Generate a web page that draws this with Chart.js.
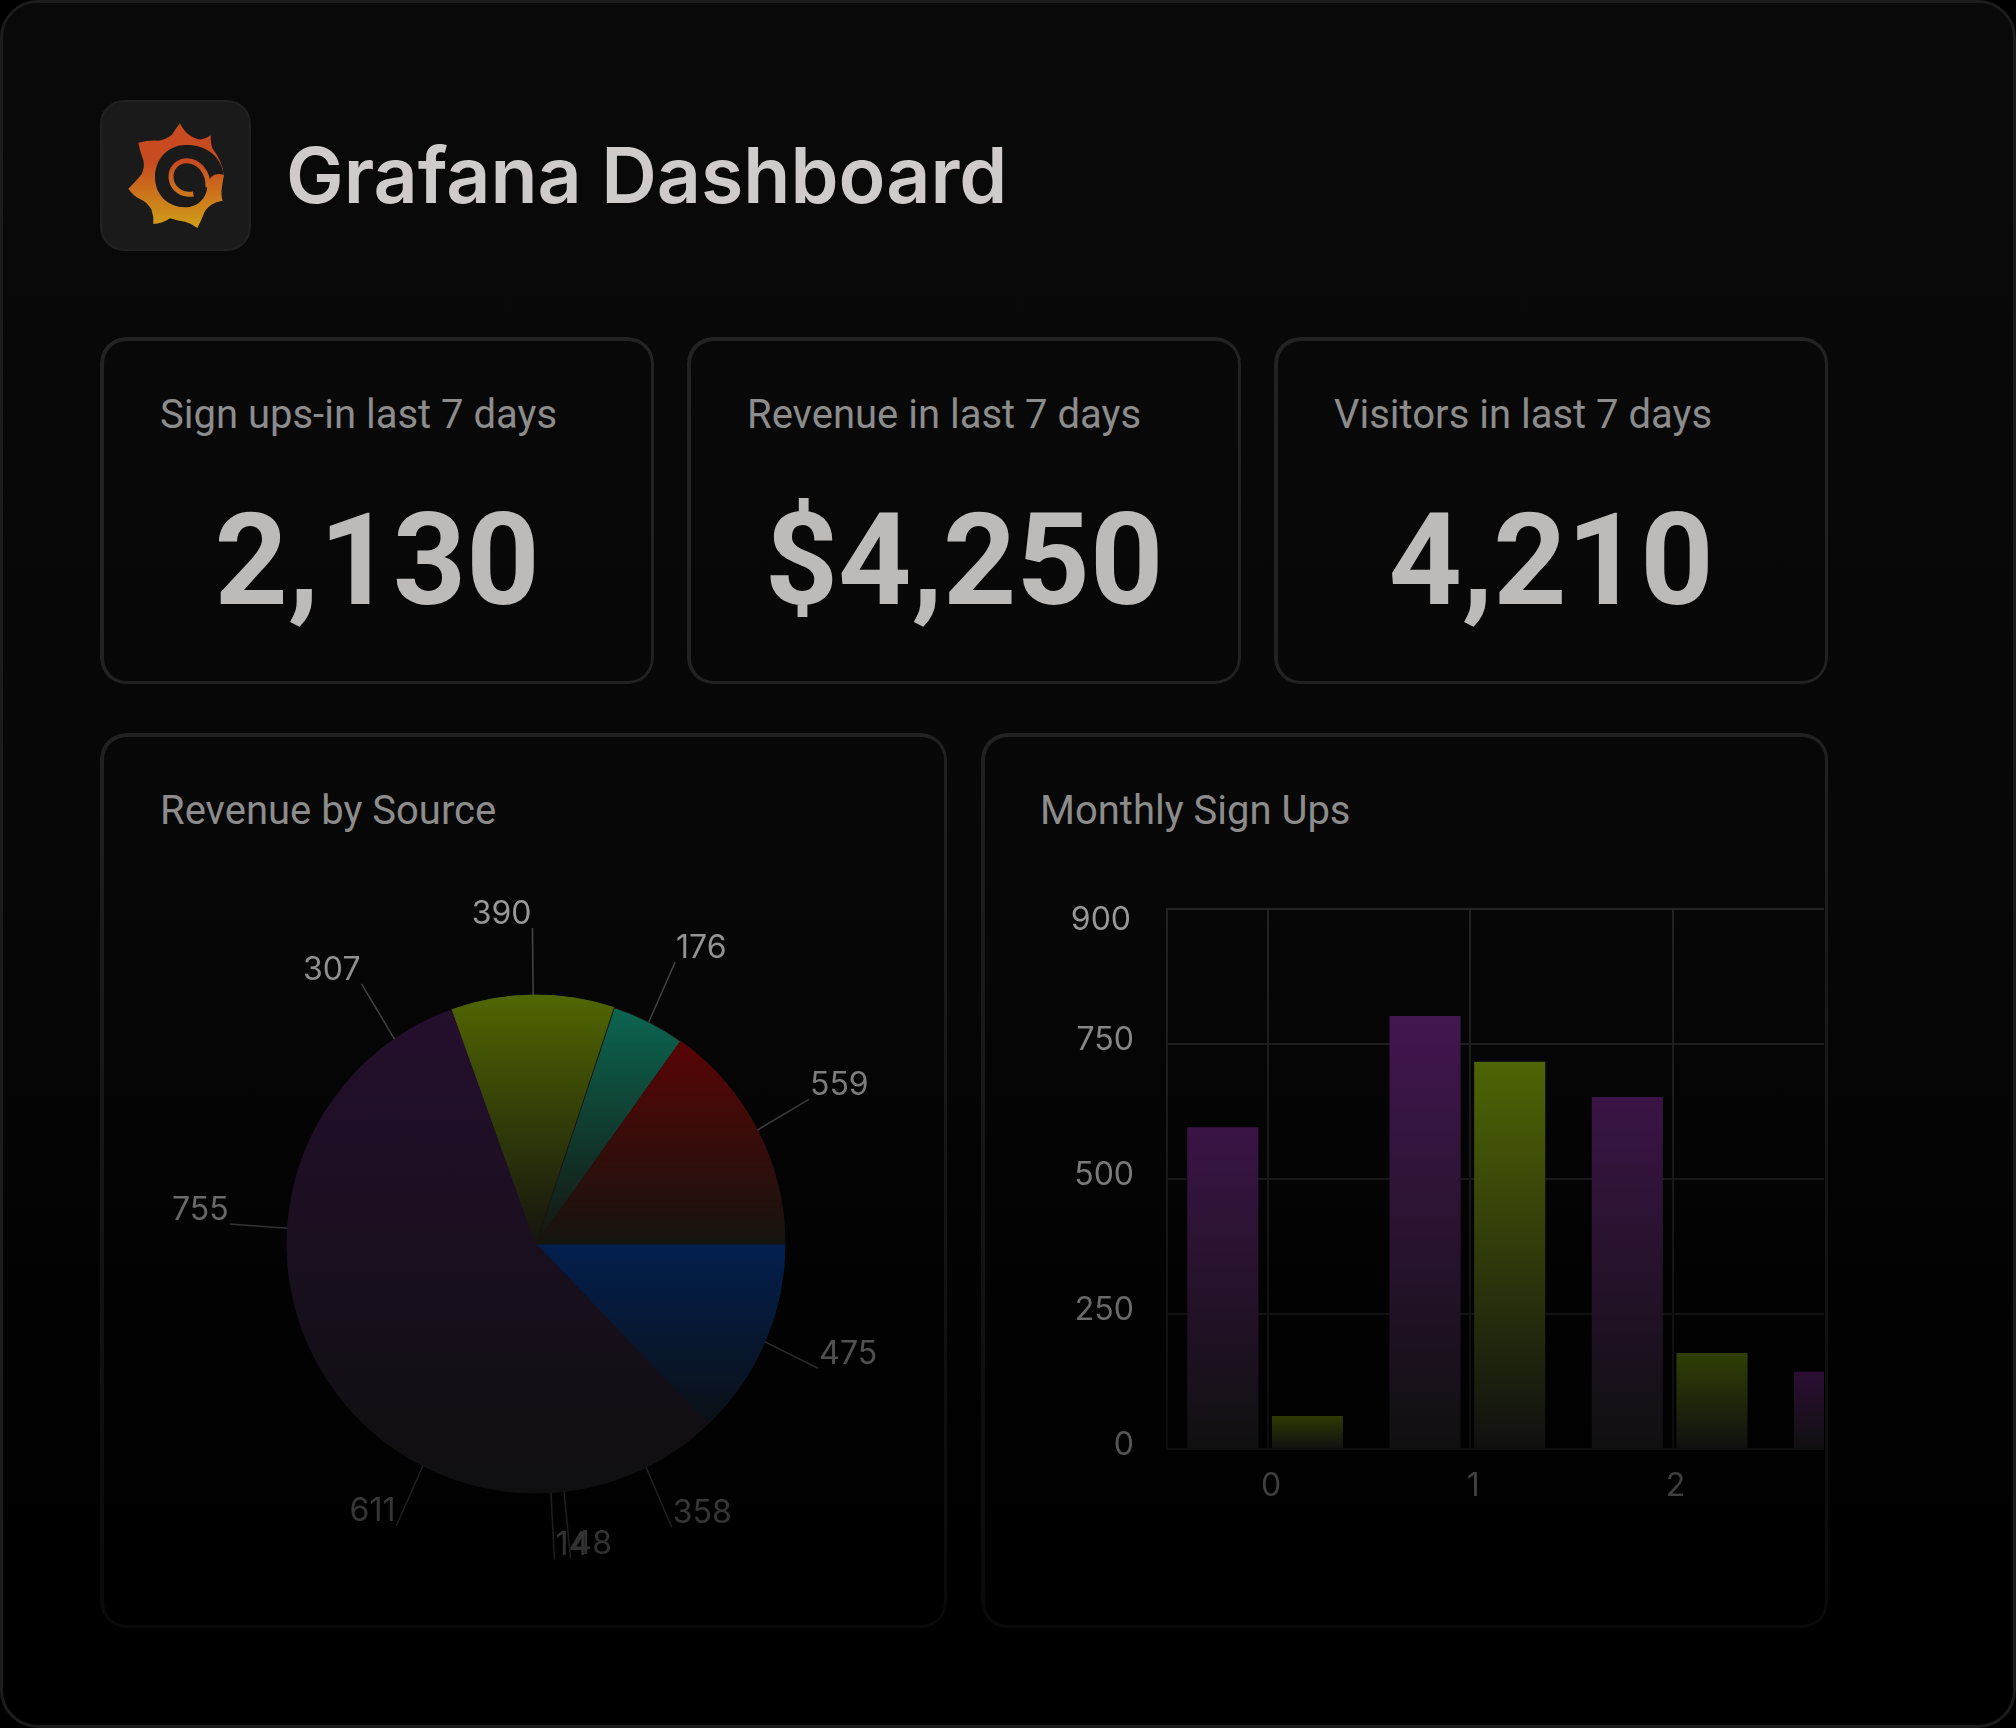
<!DOCTYPE html>
<html>
<head>
<meta charset="utf-8">
<title>Grafana Dashboard</title>
<script src="https://cdn.jsdelivr.net/npm/chart.js@4"></script>
<style>
    html, body { margin: 0; padding: 0; background: #000; }
    .page {
        position: relative; width: 2016px; height: 1728px; overflow: hidden; box-sizing: border-box;
        border: 3px solid #1c1c1c; border-radius: 38px;
        background: linear-gradient(#090909 0%, #070707 50%, #000 88%);
    }
    .box { position: absolute; box-sizing: border-box; border-radius: 26px; }
    .box::before {
        content: ''; position: absolute; inset: 0; padding: 3.5px; border-radius: 26px;
        background: linear-gradient(#232323 0%, #222 40%, #090909 95%) fixed;
        -webkit-mask: linear-gradient(#000 0 0) content-box, linear-gradient(#000 0 0);
        -webkit-mask-composite: xor; mask-composite: exclude;
    }
    .logo {
        position: absolute; left: 97px; top: 97px; width: 151px; height: 151px; box-sizing: border-box;
        background: #1a1a1a; border: 2px solid #212121; border-radius: 24px;
    }
    .logo svg { position: absolute; left: 0; top: 0; }
    h1 {
        position: absolute; left: 283px; top: 127px; margin: 0;
        font: 600 77px/90px Inter, sans-serif; color: #cfcbcb; white-space: nowrap;
    }
    .caption { position: absolute; margin: 0; font: 400 40px/48px Roboto, sans-serif; color: #8c8c8c; white-space: nowrap; }
    .stat {
        position: absolute; left: 0; right: 0; text-align: center; top: 148px;
        font: 700 128px/150px Roboto, sans-serif; color: #bdbaba;
    }
    #pieWrap { position: absolute; left: 107px; top: 857px; width: 852px; height: 768px; }
    #barClip { position: absolute; left: 1037px; top: 877px; width: 784px; height: 640px; overflow: hidden; }
    canvas { display: block; }
</style>
</head>
<body>
<div class="page">
    <div class="logo">
        <svg width="147" height="147" viewBox="36 36 441 441">
            <defs>
                <linearGradient id="flame" gradientUnits="userSpaceOnUse" x1="0" y1="215" x2="0" y2="414">
                    <stop offset="0" stop-color="#c84a20"/>
                    <stop offset="1" stop-color="#d0a018"/>
                </linearGradient>
            </defs>
            <path fill="url(#flame)" d="M270 100 Q282 125 298 135 Q320 150 335 148 Q350 145 362 136 Q362 160 367 175 Q395 210 402 255 Q398 275 396 290 Q392 315 398 332 Q378 335 363 345 Q345 358 340 375 Q332 395 322 414 Q305 400 285 395 Q260 392 240 385 Q215 402 190 402 Q192 380 184 358 Q170 335 150 327 Q130 318 115 296 Q140 272 155 252 Q165 230 160 210 Q150 185 145 158 Q175 150 205 152 Q225 150 245 135 Q258 115 270 100 Z"/>
            <path fill="#1a1a1a" d="M402 255 C392 195 345 163 285 165 C230 167 195 210 195 262 C195 315 235 352 285 352 C325 352 352 322 352 285 C356 262 375 245 402 255 Z"/>
            <path fill="none" stroke="url(#flame)" stroke-width="15" d="M354 292 C356 245 325 212 290 212 C258 212 242 240 243 262 C245 295 275 318 310 312"/>
        </svg>
    </div>
    <h1>Grafana Dashboard</h1>

    <div class="box" style="left:97px;top:334px;width:554px;height:347px">
        <p class="caption" style="left:60px;top:54px">Sign ups-in last 7 days</p>
        <div class="stat">2,130</div>
    </div>
    <div class="box" style="left:684px;top:334px;width:554px;height:347px">
        <p class="caption" style="left:60px;top:54px">Revenue in last 7 days</p>
        <div class="stat">$4,250</div>
    </div>
    <div class="box" style="left:1271px;top:334px;width:554px;height:347px">
        <p class="caption" style="left:60px;top:54px">Visitors in last 7 days</p>
        <div class="stat">4,210</div>
    </div>

    <div class="box" style="left:97px;top:730px;width:847px;height:895px">
        <p class="caption" style="left:60px;top:54px">Revenue by Source</p>
    </div>
    <div class="box" style="left:978px;top:730px;width:847px;height:895px">
        <p class="caption" style="left:59px;top:54px">Monthly Sign Ups</p>
    </div>

    <div id="pieWrap"><canvas id="pieChart" width="852" height="768"></canvas></div>
    <div id="barClip"><canvas id="barChart" width="940" height="640"></canvas></div>
</div>

<script>
// Revenue by Source, clockwise from 3 o'clock
const sliceValues = [475, 358, 48, 14, 611, 755, 307, 390, 176, 559];
const sliceColors = ['#021f4e', '#240f2d', '#240f2d', '#240f2d', '#240f2d', '#240f2d', '#240f2d', '#506602', '#0b6a55', '#570505'];

// Monthly Sign Ups
const months = ['0', '1', '2', '3'];
const signUpsA = [596, 802, 652, 143];
const signUpsB = [61, 717, 178, null];
const barTopsA = ['#3a1445', '#421650', '#3a1445', '#2b0e33'];
const barTopsB = ['#2d3a04', '#4e6405', '#2f3f04', '#2f3f04'];
const yTicks = [0, 250, 500, 750, 1000];
const yTickLabels = ['0', '250', '500', '750', '900'];
const yTickGrays = ['#555555', '#6a6a6a', '#7a7a7a', '#868686', '#979797'];

const FADE_END = '#101010';

function fadeGradient(ctx, from, to, top, bottom) {
    const g = ctx.createLinearGradient(0, top, 0, bottom);
    g.addColorStop(0, from);
    g.addColorStop(1, to);
    return g;
}

// Pie: every colour fades to near black over its own vertical extent
function sliceFill(context) {
    const i = context.dataIndex;
    const { ctx, chartArea } = context.chart;
    const c = sliceColors[i];
    if (!chartArea || c === undefined) return c;
    const cy = (chartArea.top + chartArea.bottom) / 2;
    const r = context.dataset.radius;
    if (c === '#021f4e') return fadeGradient(ctx, c, '#0b1016', cy, cy + r * 0.72);
    if (c === '#240f2d') return fadeGradient(ctx, c, '#0f0f10', cy - r * 0.92, cy + r);
    if (c === '#570505') return fadeGradient(ctx, c, '#15140f', cy - r * 0.8, cy);
    return fadeGradient(ctx, c, '#15140f', cy - r, cy);
}

// dark hairline between olive and teal, the rest keep their own colour
function sliceEdge(context) {
    return sliceColors[context.dataIndex] === '#0b6a55' ? '#17150f' : sliceFill(context);
}

const leaderPlugin = {
    id: 'leaders',
    afterDatasetsDraw(chart) {
        const { ctx } = chart;
        const arcs = chart.getDatasetMeta(0).data;
        const textFade = fadeGradient(ctx, '#989898', '#2e2e2e', 50, 700);
        const lineFade = fadeGradient(ctx, '#484848', '#1c1c1c', 50, 700);
        ctx.save();
        ctx.font = '400 32px Inter, sans-serif';
        ctx.textBaseline = 'middle';
        arcs.forEach((arc, i) => {
            const mid = (arc.startAngle + arc.endAngle) / 2;
            const cos = Math.cos(mid), sin = Math.sin(mid);
            const r = arc.outerRadius;
            const ex = arc.x + (r + 58) * cos, ey = arc.y + (r + 67) * sin;
            ctx.strokeStyle = lineFade;
            ctx.lineWidth = 1.5;
            ctx.beginPath();
            ctx.moveTo(arc.x + r * cos, arc.y + r * sin);
            ctx.lineTo(ex, ey);
            ctx.stroke();
            ctx.fillStyle = textFade;
            ctx.textAlign = cos >= 0 ? 'left' : 'right';
            ctx.fillText(String(sliceValues[i]), ex + (cos >= 0 ? 1 : -1), ey - 14);
        });
        ctx.restore();
    }
};

new Chart(document.getElementById('pieChart'), {
    type: 'pie',
    data: {
        labels: sliceValues.map(String),
        datasets: [{
            data: sliceValues,
            radius: 249,
            rotation: 90,
            backgroundColor: sliceFill,
            borderColor: sliceEdge,
            borderWidth: 1
        }]
    },
    options: {
        responsive: false,
        animation: false,
        layout: { padding: 0 },
        plugins: { legend: { display: false }, tooltip: { enabled: false } }
    },
    plugins: [leaderPlugin]
});

// Bars fade from their own top colour to near black at the base
function barFill(tops) {
    return context => {
        const { ctx, scales, chartArea } = context.chart;
        const value = context.raw;
        const top = tops[context.dataIndex];
        if (value == null || !chartArea) return top;
        const y0 = scales.y.getPixelForValue(value), y1 = scales.y.getPixelForValue(0);
        if (!Number.isFinite(y0) || !Number.isFinite(y1)) return top;
        return fadeGradient(ctx, top, FADE_END, y0, y1);
    };
}

const barCanvas = document.getElementById('barChart');
const barCtx = barCanvas.getContext('2d');
const gridFade = fadeGradient(barCtx, '#232323', '#0c0c0c', 30, 575);

// the top label sits below its grid line, the others just above
const topLabelPlugin = {
    id: 'topLabel',
    beforeDraw(chart) {
        chart.scales.y.getLabelItems().forEach(item => {
            const t = item.options.translation;
            if (item.label === '900' && !item.moved) { t[1] += 15; t[0] -= 3; item.moved = true; }
        });
    }
};

// bar groups sit a touch left of their tick
const barNudgePlugin = {
    id: 'barNudge',
    beforeDatasetsDraw(chart) { chart.ctx.save(); chart.ctx.translate(-3, 0); },
    afterDatasetsDraw(chart) { chart.ctx.restore(); }
};

new Chart(barCanvas, {
    type: 'bar',
    data: {
        labels: months,
        datasets: [
            { data: signUpsA, backgroundColor: barFill(barTopsA) },
            { data: signUpsB, backgroundColor: barFill(barTopsB) }
        ]
    },
    options: {
        responsive: false,
        animation: false,
        categoryPercentage: 0.837,
        barPercentage: 0.84,
        layout: { padding: { top: 29, right: 4, left: 0, bottom: 0 } },
        plugins: { legend: { display: false }, tooltip: { enabled: false } },
        scales: {
            x: {
                afterFit: scale => { scale.height = 71; },
                grid: { color: gridFade, lineWidth: 2, drawTicks: false, offset: false },
                border: { color: gridFade, width: 2 },
                ticks: {
                    color: '#3f3f3f', padding: 18, labelOffset: 3, maxRotation: 0, autoSkip: false,
                    font: { family: 'Inter', size: 32 }
                }
            },
            y: {
                min: 0,
                max: 1000,
                afterFit: scale => { scale.width = 127; scale.paddingTop = 0; scale.paddingBottom = 0; },
                afterBuildTicks: scale => { scale.ticks = yTicks.map(value => ({ value })); },
                grid: { color: gridFade, lineWidth: 2, drawTicks: false },
                border: { color: gridFade, width: 2 },
                ticks: {
                    color: context => yTickGrays[yTicks.indexOf(context.tick.value)],
                    padding: 33,
                    labelOffset: -4,
                    callback: value => yTickLabels[yTicks.indexOf(value)],
                    font: { family: 'Inter', size: 32 }
                }
            }
        }
    },
    plugins: [topLabelPlugin, barNudgePlugin]
});
</script>
</body>
</html>
